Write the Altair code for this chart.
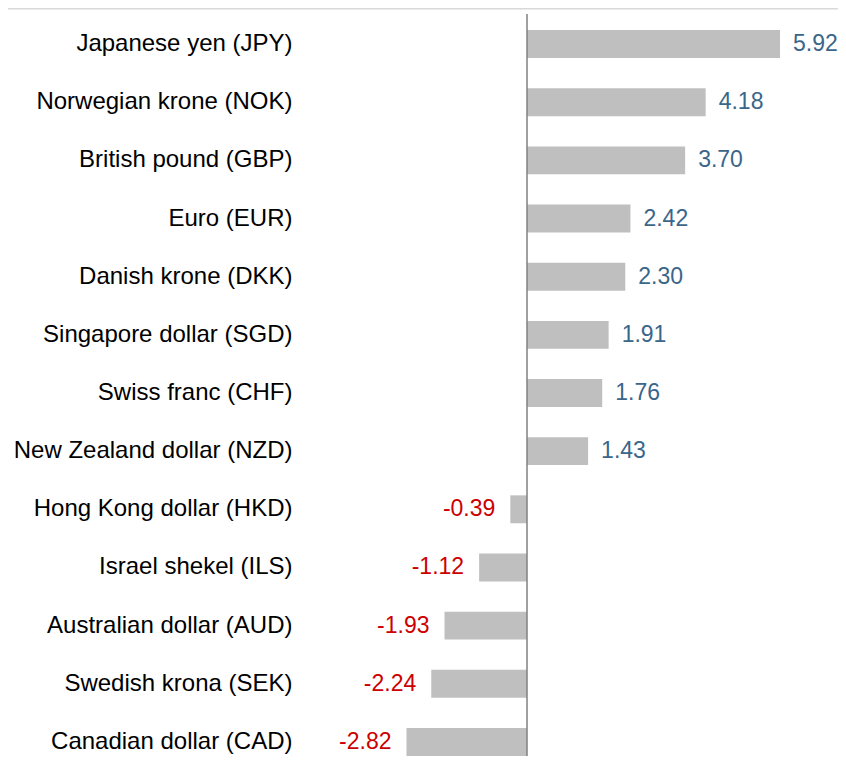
import altair as alt
import pandas as pd

currencies = [
    "Japanese yen (JPY)", "Norwegian krone (NOK)", "British pound (GBP)",
    "Euro (EUR)", "Danish krone (DKK)", "Singapore dollar (SGD)",
    "Swiss franc (CHF)", "New Zealand dollar (NZD)", "Hong Kong dollar (HKD)",
    "Israel shekel (ILS)", "Australian dollar (AUD)", "Swedish krona (SEK)",
    "Canadian dollar (CAD)",
]
values = [5.92, 4.18, 3.70, 2.42, 2.30, 1.91, 1.76, 1.43, -0.39, -1.12, -1.93, -2.24, -2.82]

df = pd.DataFrame({"currency": currencies, "value": values})
df["label"] = [f"{v:.2f}" for v in values]

W, H = 536, 748
FONT = "Liberation Sans"
FS_CAT = 24
FS_VAL = 23

# 0 at 225 px from the plot's left edge, 42.74 px per unit
x_scale = alt.Scale(domain=[-225 / 42.74, (W - 225) / 42.74], nice=False, zero=False)
y_scale = alt.Scale(domain=currencies, range=[7, 763], paddingInner=0.52, paddingOuter=0.26)

base = alt.Chart(df)

bars = base.mark_bar(color="#bfbfbf").encode(
    x=alt.X("value:Q", scale=x_scale, axis=None),
    y=alt.Y("currency:N", scale=y_scale, sort=currencies,
            axis=alt.Axis(title=None, domain=False, ticks=False, grid=False,
                          labelFont=FONT, labelFontSize=FS_CAT, labelColor="#000000",
                          labelPadding=10, labelLimit=400)),
)

pos_labels = base.transform_filter("datum.value >= 0").mark_text(
    align="left", baseline="middle", dx=13, font=FONT, fontSize=FS_VAL, color="#3a6689"
).encode(
    x=alt.X("value:Q", scale=x_scale),
    y=alt.Y("currency:N", scale=y_scale, sort=currencies),
    text="label:N",
)

neg_labels = base.transform_filter("datum.value < 0").mark_text(
    align="right", baseline="middle", dx=-15, font=FONT, fontSize=FS_VAL, color="#cc0000"
).encode(
    x=alt.X("value:Q", scale=x_scale),
    y=alt.Y("currency:N", scale=y_scale, sort=currencies),
    text="label:N",
)

zero_line = alt.Chart(pd.DataFrame({"z": [0]})).mark_rule(color="#808080", strokeWidth=1.5).encode(
    x=alt.X("z:Q", scale=x_scale),
    y=alt.value(6),
    y2=alt.value(H),
)

top_line = alt.Chart(pd.DataFrame({"z": [0]})).mark_rule(color="#d9d9d9", strokeWidth=1.5).encode(
    x=alt.value(-294),
    x2=alt.value(W),
    y=alt.value(0.75),
)

chart = alt.layer(top_line, bars, zero_line, pos_labels, neg_labels).properties(
    width=W, height=H,
    autosize=alt.AutoSizeParams(type="none"),
    padding={"left": 294, "top": 0, "right": 0, "bottom": 0},
).configure_view(stroke=None)

chart.save("out.html", embed_options={"renderer": "svg", "actions": False})
